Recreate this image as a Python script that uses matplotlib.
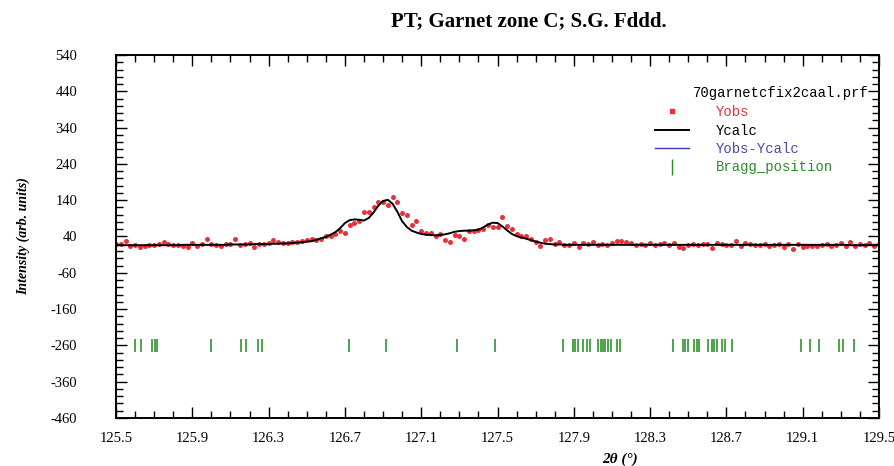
import numpy as np
import matplotlib.pyplot as plt
from matplotlib.lines import Line2D
from matplotlib.ticker import MultipleLocator

plt.rcParams['axes.unicode_minus'] = False

# 2theta grid of the profile (step 0.025 deg)
two_theta = np.arange(125.5, 129.5001, 0.025)

y_obs = [
    18, 20, 28, 15, 17, 10, 15, 17, 16, 18,
    26, 19, 16, 17, 14, 10, 23, 15, 19, 33,
    19, 16, 14, 20, 18, 32, 17, 19, 23, 12,
    19, 20, 22, 30, 26, 22, 23, 25, 26, 28,
    30, 33, 29, 34, 40, 40, 46, 56, 51, 72,
    78, 84, 107, 108, 122, 136, 136, 127, 150, 136,
    104, 99, 72, 84, 56, 49, 51, 40, 47, 30,
    26, 44, 40, 33, 56, 56, 58, 60, 72, 65,
    65, 95, 69, 60, 48, 40, 42, 32, 26, 14,
    29, 33, 20, 26, 17, 17, 23, 12, 23, 20,
    26, 17, 20, 17, 21, 28, 28, 26, 21, 17,
    20, 17, 21, 17, 20, 23, 17, 23, 12, 7,
    17, 20, 17, 20, 20, 7, 21, 20, 17, 17,
    28, 14, 21, 20, 17, 17, 20, 14, 17, 20,
    12, 20, 5, 20, 12, 14, 14, 14, 17, 20,
    14, 17, 22, 15, 26, 14, 20, 17, 22, 15, 18,
]

y_calc = [
    16, 16, 16, 16, 16, 16, 16, 16, 16, 16,
    16, 16, 16, 16, 17, 17, 17, 17, 17, 17,
    17, 17, 17, 17, 18, 18, 18, 18, 18, 19,
    19, 19, 19, 20, 20, 21, 21, 22, 23, 24,
    26, 27, 31, 35, 39, 45, 52, 63, 77, 85,
    87, 86, 84, 91, 106, 125, 138, 141, 130, 108,
    82, 66, 56, 51, 47, 45, 44, 43, 44, 46,
    49, 53, 55, 56, 56, 57, 59, 65, 73, 78,
    77, 68, 57, 47, 41, 37, 34, 30, 26, 23,
    20, 19, 18, 18, 17, 17, 17, 17, 17, 17,
    17, 17, 17, 17, 17, 17, 17, 17, 17, 17,
    17, 17, 17, 17, 17, 17, 17, 17, 17, 17,
    17, 17, 17, 17, 17, 17, 17, 17, 17, 17,
    17, 17, 17, 17, 17, 17, 17, 17, 17, 17,
    17, 17, 17, 17, 17, 17, 17, 17, 17, 17,
    17, 17, 17, 17, 16, 16, 16, 16, 16, 16, 16,
]

bragg = [
    125.600, 125.629, 125.690, 125.704, 125.713, 125.996, 126.155, 126.180,
    126.246, 126.264, 126.720, 126.915, 127.289, 127.487,
    127.842, 127.894, 127.906, 127.924, 127.950, 127.968, 127.985, 128.028,
    128.041, 128.052, 128.064, 128.081, 128.095, 128.125, 128.142,
    128.422, 128.471, 128.483, 128.500, 128.530, 128.544, 128.558, 128.605,
    128.623, 128.637, 128.649, 128.675, 128.692, 128.728,
    129.092, 129.140, 129.187, 129.290, 129.312, 129.369,
]
bragg_level = -260

red = '#e8323a'
green = '#1e8c1e'
serif = 'Liberation Serif'
mono = 'Liberation Mono'

fig = plt.figure(figsize=(8.94, 4.66), dpi=100)
ax = fig.add_axes([0.1298, 0.103, 0.8534, 0.779])

ax.plot(two_theta, y_obs, 'o', color=red, markersize=3.6, markeredgewidth=0, zorder=2)
ax.plot(two_theta, y_calc, '-', color='black', linewidth=1.4, zorder=3)
ax.vlines(bragg, bragg_level - 19, bragg_level + 19, color=green, linewidth=1.1)

ax.set_xlim(125.5, 129.5)
ax.set_ylim(-460, 540)
ax.xaxis.set_minor_locator(MultipleLocator(0.1))
ax.yaxis.set_minor_locator(MultipleLocator(20))
ax.set_xticks(np.arange(125.5, 129.51, 0.4))
ax.set_yticks(np.arange(-460, 541, 100))

ax.tick_params(which='both', direction='in', top=True, right=True, width=1.0, color='black')
ax.tick_params(which='major', length=8)
ax.tick_params(which='minor', length=5)
ax.tick_params(axis='y', pad=28)
ax.tick_params(axis='x', pad=10)
for lab in ax.get_xticklabels() + ax.get_yticklabels():
    lab.set_family(serif)
    lab.set_fontsize(10.5)
for s in ax.spines.values():
    s.set_linewidth(1.4)

ax.set_xlabel('2θ (°)', family=serif, fontsize=11, fontweight='bold', style='italic')
ax.xaxis.set_label_coords(0.66, -0.095)
ax.set_ylabel('Intensity (arb. units)', family=serif, fontsize=10, fontweight='bold', style='italic')
ax.yaxis.set_label_coords(-0.112, 0.5)

fig.text(0.591, 0.955, 'PT; Garnet zone C; S.G. Fddd.', family=serif, fontsize=15,
         fontweight='bold', ha='center', va='center')

# legend in the WinPLOTR style
ax.text(0.986, 0.895, '70garnetcfix2caal.prf', family=mono, fontsize=10,
        ha='right', va='center', transform=ax.transAxes)
handles = [
    Line2D([], [], marker='s', color=red, linestyle='none', markersize=3),
    Line2D([], [], color='black', linewidth=1.4),
    Line2D([], [], color='#3b3ba8', linewidth=1.0),
    Line2D([], [], marker='|', color=green, linestyle='none', markersize=11, markeredgewidth=1.0),
]
labels = ['Yobs', 'Ycalc', 'Yobs-Ycalc', 'Bragg_position']
ax.legend(handles, labels, loc='upper left', bbox_to_anchor=(0.706, 0.862), frameon=False,
          prop={'family': mono, 'size': 10}, labelcolor=[red, 'black', '#4a4aa8', '#2e8b2e'],
          handlelength=2.5, handletextpad=1.9, labelspacing=0.32, borderpad=0,
          borderaxespad=0, numpoints=1)

fig.savefig('out.png', dpi=100)
